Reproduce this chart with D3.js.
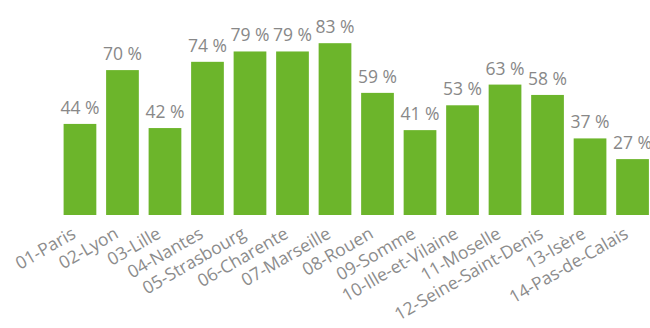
<!DOCTYPE html>
<html>
<head>
<meta charset="utf-8">
<script src="https://cdn.jsdelivr.net/npm/d3@7"></script>
<style>
  html, body { margin: 0; padding: 0; background: #fff; }
  svg { display: block; }
  text { font-family: "Open Sans", "Noto Sans", sans-serif; }
</style>
</head>
<body>
<script>
// Share per département (percent)
const categories = [
  "01-Paris", "02-Lyon", "03-Lille", "04-Nantes", "05-Strasbourg",
  "06-Charente", "07-Marseille", "08-Rouen", "09-Somme", "10-Ille-et-Vilaine",
  "11-Moselle", "12-Seine-Saint-Denis", "13-Isère", "14-Pas-de-Calais"
];
const values = [44, 70, 42, 74, 79, 79, 83, 59, 41, 53, 63, 58, 37, 27];

const width = 650, height = 328;
const baseY = 215;

const svg = d3.select("body").append("svg")
  .attr("width", width)
  .attr("height", height);

const x = d3.scaleBand()
  .domain(categories)
  .range([58.5, 654])
  .paddingInner(0.23)
  .paddingOuter(0.12);

const y = d3.scaleLinear()
  .domain([0, 100])
  .range([baseY, 8]);

// Bars
svg.append("g")
  .selectAll("rect")
  .data(values)
  .join("rect")
  .attr("x", (d, i) => x(categories[i]))
  .attr("y", d => y(d))
  .attr("width", x.bandwidth())
  .attr("height", d => baseY - y(d))
  .attr("fill", "#6cb52b");

// Value labels above bars
svg.append("g")
  .selectAll("text")
  .data(values)
  .join("text")
  .attr("x", (d, i) => x(categories[i]) + x.bandwidth() / 2)
  .attr("y", d => y(d) - 10)
  .attr("text-anchor", "middle")
  .attr("font-size", 17.5)
  .attr("fill", "#888888")
  .text(d => d + " %");

// Category axis, labels rotated
const axis = d3.axisBottom(x).tickSize(0).tickPadding(0);
const gx = svg.append("g")
  .attr("transform", `translate(0,${baseY})`)
  .call(axis);
gx.select(".domain").remove();
gx.selectAll(".tick text")
  .attr("font-size", 17.5)
  .attr("font-family", "\"Open Sans\", \"Noto Sans\", sans-serif")
  .attr("fill", "#8c8c8c")
  .attr("text-anchor", "end")
  .attr("y", 0)
  .attr("dy", null)
  .attr("transform", "translate(-3,22) rotate(-30)");
</script>
</body>
</html>
